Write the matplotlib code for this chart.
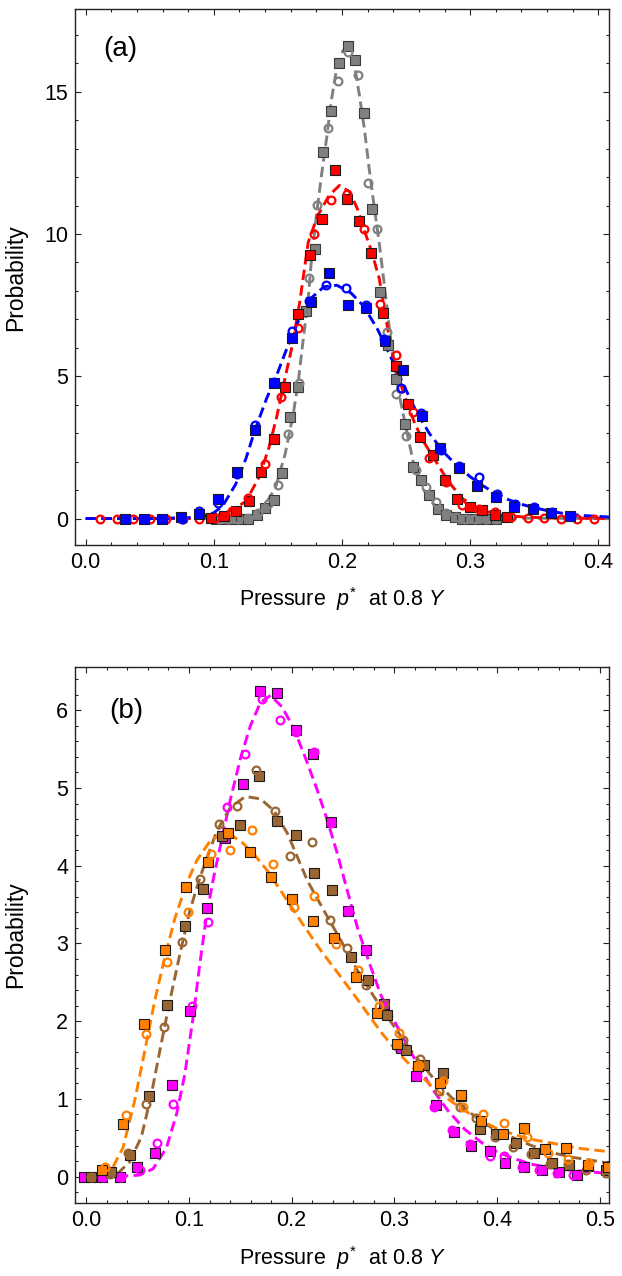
import matplotlib
matplotlib.use("Agg")
import matplotlib.pyplot as plt
from matplotlib.ticker import MultipleLocator, FormatStrFormatter

plt.rcParams['font.family'] = ['Liberation Sans', 'DejaVu Sans']
plt.rcParams['mathtext.fontset'] = 'custom'
plt.rcParams['mathtext.rm'] = 'Liberation Sans'
plt.rcParams['mathtext.it'] = 'Liberation Sans:italic'

# ---------------- panel (a) data ----------------
blue_sq_x = [0.031, 0.0455, 0.0599, 0.0744, 0.0888, 0.1033, 0.1177, 0.1322, 0.1466, 0.1611,
             0.1755, 0.19, 0.2044, 0.2189, 0.2333, 0.2478, 0.2622, 0.2767, 0.2911, 0.3056,
             0.32, 0.3345, 0.3489, 0.3634, 0.3778]
blue_sq_y = [0, 0, 0, 0.06, 0.15, 0.68, 1.62, 3.1, 4.76, 6.34,
             7.6, 8.64, 7.52, 7.4, 6.24, 5.21, 3.6, 2.47, 1.76, 1.14,
             0.76, 0.41, 0.32, 0.2, 0.08]
blue_ci_x = [0.0315, 0.046, 0.0605, 0.075, 0.0886, 0.103, 0.1178, 0.1324, 0.1466, 0.1607,
             0.1745, 0.1875, 0.2032, 0.2186, 0.2326, 0.2462, 0.2615, 0.2775, 0.2915, 0.3065,
             0.321, 0.335, 0.3495, 0.364, 0.3785]
blue_ci_y = [0, 0, 0, 0, 0.25, 0.55, 1.55, 3.3, 4.8, 6.6,
             7.65, 8.2, 8.1, 7.5, 6.3, 4.6, 3.7, 2.41, 1.85, 1.47,
             0.85, 0.5, 0.41, 0.24, 0.1]
blue_fit_x = [0.0, 0.05, 0.08, 0.09, 0.1, 0.107, 0.117, 0.125, 0.132, 0.141, 0.15, 0.158,
              0.166, 0.176, 0.186, 0.196, 0.207, 0.217, 0.228, 0.238, 0.248, 0.257, 0.268,
              0.28, 0.29, 0.3, 0.31, 0.32, 0.33, 0.34, 0.35, 0.36, 0.37, 0.38, 0.39, 0.41]
blue_fit_y = [0, 0, 0.03, 0.08, 0.2, 0.45, 1.2, 2.1, 3.1, 4.2, 5.15, 6.1,
              6.95, 7.75, 8.15, 8.2, 7.93, 7.46, 6.63, 5.68, 4.7, 3.85, 3.0,
              2.3, 1.85, 1.47, 1.15, 0.88, 0.66, 0.5, 0.38, 0.28, 0.2, 0.14, 0.1, 0.05]

red_sq_x = [0.098, 0.108, 0.1175, 0.1273, 0.137, 0.1466, 0.1556, 0.1653, 0.1754, 0.1846,
            0.1942, 0.2037, 0.2135, 0.223, 0.2323, 0.2418, 0.2513, 0.261, 0.2707, 0.2804,
            0.29, 0.2998, 0.3095, 0.319, 0.329]
red_sq_y = [0.02, 0.08, 0.25, 0.63, 1.64, 2.79, 4.62, 7.19, 9.26, 10.53,
            12.25, 11.24, 10.45, 9.35, 7.22, 5.35, 4.03, 2.88, 2.25, 1.35,
            0.7, 0.41, 0.29, 0.12, 0.05]
red_ci_x = [0.0115, 0.0243, 0.0371, 0.05, 0.0628, 0.0756, 0.0885, 0.1013, 0.1141, 0.127,
            0.1398, 0.1526, 0.1654, 0.1783, 0.1911, 0.2039, 0.2168, 0.2296, 0.2424, 0.2552,
            0.2681, 0.2809, 0.2937, 0.3065, 0.3194, 0.3322, 0.345, 0.3578, 0.3707, 0.3835,
            0.3963]
red_ci_y = [0, 0, 0, 0, 0, 0, 0, 0.01, 0.27, 0.72,
            1.9, 4.27, 6.69, 10.0, 11.18, 11.42, 10.18, 7.55, 5.74, 3.76,
            2.12, 1.29, 0.47, 0.32, 0.24, 0.04, 0.02, 0.01, 0, 0,
            0]
red_fit_x = [0.0, 0.08, 0.1, 0.112, 0.125, 0.135, 0.143, 0.149, 0.154, 0.161, 0.167,
             0.1736, 0.181, 0.19, 0.198, 0.206, 0.212, 0.217, 0.2225, 0.229, 0.238, 0.243,
             0.251, 0.257, 0.263, 0.272, 0.283, 0.294, 0.308, 0.322, 0.34, 0.36, 0.41]
red_fit_y = [0, 0, 0.07, 0.25, 0.6, 1.43, 2.49, 3.56, 4.62, 6.04, 7.6,
             9.7, 10.65, 11.36, 11.71, 11.48, 10.89, 10.18, 9.47, 8.45, 6.04, 5.1,
             4.03, 3.32, 2.75, 2.1, 1.3, 0.7, 0.3, 0.14, 0.06, 0.02, 0]

gray_sq_x = [0.102, 0.108, 0.114, 0.121, 0.127, 0.134, 0.1402, 0.1466, 0.153, 0.1594,
             0.1659, 0.1723, 0.1788, 0.1852, 0.1916, 0.198, 0.2045, 0.2104, 0.2168, 0.2233,
             0.2297, 0.2359, 0.2423, 0.2495, 0.2554, 0.262, 0.268, 0.275, 0.281, 0.288,
             0.294, 0.3, 0.307, 0.313, 0.32]
gray_sq_y = [0, 0, 0, 0, 0, 0.13, 0.37, 0.66, 1.6, 3.56,
             4.62, 7.28, 9.47, 12.9, 14.31, 16.03, 16.62, 16.11, 14.26, 10.88,
             7.95, 6.1, 4.92, 3.34, 1.82, 1.35, 0.82, 0.32, 0.12, 0.05,
             0, 0, 0, 0, 0]
gray_ci_x = [0.104, 0.111, 0.119, 0.127, 0.1348, 0.1426, 0.1504, 0.158, 0.1665, 0.1744,
             0.1808, 0.189, 0.1968, 0.2045, 0.2127, 0.2204, 0.2276, 0.2348, 0.2418, 0.2496,
             0.2574, 0.2652, 0.273, 0.281, 0.289, 0.296, 0.304, 0.312, 0.32]
gray_ci_y = [0, 0, 0, 0.02, 0.18, 0.5, 1.19, 2.97, 4.76, 8.46,
             11.03, 13.72, 15.38, 16.4, 15.58, 11.81, 10.18, 6.57, 4.39, 2.9,
             1.7, 1.1, 0.59, 0.2, 0.05, 0, 0, 0, 0]
gray_fit_x = [0.0, 0.1, 0.125, 0.135, 0.148, 0.1556, 0.162, 0.166, 0.1697, 0.1736, 0.176,
              0.18, 0.184, 0.188, 0.1916, 0.1955, 0.2006, 0.2058, 0.2096, 0.2135, 0.2174,
              0.2212, 0.225, 0.229, 0.2328, 0.238, 0.244, 0.2508, 0.256, 0.2625, 0.2694,
              0.278, 0.286, 0.3, 0.41]
gray_fit_y = [0, 0, 0.02, 0.13, 1.07, 2.26, 3.68, 4.86, 6.28, 7.7, 9.0,
              10.65, 12.07, 13.37, 14.67, 15.73, 16.44, 16.5, 15.97, 14.9, 13.72,
              12.3, 11.0, 9.7, 8.29, 6.3, 4.5, 3.0, 1.9, 1.1, 0.6,
              0.25, 0.1, 0.02, 0]

# ---------------- panel (b) data ----------------
orange_sq_x = [0.0155, 0.0357, 0.0559, 0.0764, 0.0972, 0.1181, 0.138, 0.1592, 0.1794, 0.2,
               0.2207, 0.2413, 0.2624, 0.2829, 0.3025, 0.3234, 0.3449, 0.3645, 0.3847, 0.406,
               0.4267, 0.4466, 0.467, 0.4889, 0.5085]
orange_sq_y = [0.09, 0.68, 1.97, 2.92, 3.72, 4.05, 4.42, 4.17, 3.86, 3.57,
               3.29, 3.07, 2.57, 2.1, 1.71, 1.42, 1.21, 1.05, 0.72, 0.55,
               0.62, 0.35, 0.37, 0.15, 0.13]
orange_ci_x = [0.0178, 0.0383, 0.0578, 0.079, 0.0992, 0.1214, 0.1403, 0.1615, 0.182, 0.2022,
               0.2217, 0.2429, 0.2647, 0.2853, 0.3048, 0.3244, 0.3471, 0.3667, 0.3863, 0.4068,
               0.4287, 0.4498, 0.4694, 0.4896]
orange_ci_y = [0.12, 0.79, 1.84, 2.76, 3.4, 4.15, 4.2, 4.46, 4.02, 3.47,
               3.61, 2.99, 2.66, 2.2, 1.85, 1.43, 1.23, 0.89, 0.8, 0.69,
               0.51, 0.3, 0.23, 0.17]
orange_fit_x = [0.0, 0.015, 0.0226, 0.0357, 0.047, 0.057, 0.0666, 0.0764, 0.0862, 0.0976,
                0.1077, 0.1207, 0.1321, 0.1403, 0.1517, 0.1631, 0.1761, 0.1892, 0.2087,
                0.2283, 0.2478, 0.2674, 0.2869, 0.3032, 0.3195, 0.3358, 0.3521, 0.3684,
                0.3847, 0.401, 0.4172, 0.4335, 0.4498, 0.4661, 0.4824, 0.51]
orange_fit_y = [0, 0, 0.04, 0.37, 0.97, 1.62, 2.26, 2.82, 3.32, 3.77,
                4.07, 4.32, 4.41, 4.4, 4.3, 4.15, 3.94, 3.68, 3.29,
                2.91, 2.57, 2.22, 1.86, 1.6, 1.38, 1.17, 1.0, 0.85,
                0.72, 0.61, 0.54, 0.48, 0.44, 0.4, 0.36, 0.32]

brown_sq_x = [0.0047, 0.024, 0.0422, 0.0611, 0.0787, 0.0966, 0.1139, 0.1322, 0.1501, 0.168,
              0.186, 0.2038, 0.2217, 0.2397, 0.2576, 0.2748, 0.2928, 0.3114, 0.3293, 0.3473,
              0.3651, 0.3831, 0.3993, 0.4182, 0.4362, 0.4531, 0.47, 0.4883, 0.5059]
brown_sq_y = [0, 0.06, 0.28, 1.04, 2.21, 3.22, 3.7, 4.38, 4.53, 5.16,
              4.58, 4.39, 3.91, 3.69, 2.82, 2.53, 2.08, 1.63, 1.43, 1.33,
              1.04, 0.61, 0.55, 0.43, 0.31, 0.18, 0.15, 0.14, 0.08]
brown_ci_x = [0.0047, 0.0227, 0.0406, 0.0578, 0.0754, 0.0934, 0.1107, 0.1289, 0.1468, 0.1657,
              0.1833, 0.1986, 0.2194, 0.2374, 0.2543, 0.2723, 0.2902, 0.3081, 0.3254, 0.343,
              0.3636, 0.3799, 0.3977, 0.4156, 0.4335, 0.4515, 0.4687, 0.4864, 0.5059]
brown_ci_y = [0, 0.03, 0.31, 0.94, 1.93, 3.02, 3.83, 4.54, 4.77, 5.23,
              4.7, 4.13, 4.3, 3.3, 2.94, 2.47, 2.22, 1.76, 1.51, 1.1,
              0.89, 0.76, 0.51, 0.38, 0.29, 0.16, 0.16, 0.08, 0.05]
brown_fit_x = [0.0, 0.02, 0.029, 0.0422, 0.0536, 0.0634, 0.0716, 0.0813, 0.0911, 0.1008,
               0.1107, 0.1272, 0.1403, 0.1549, 0.1696, 0.1826, 0.1957, 0.2152, 0.2315,
               0.2478, 0.2641, 0.2804, 0.2967, 0.3162, 0.3358, 0.3554, 0.375, 0.3945,
               0.4141, 0.4335, 0.4532, 0.4727, 0.4922, 0.51]
brown_fit_y = [0, 0, 0.02, 0.19, 0.51, 1.06, 1.62, 2.26, 2.86, 3.42,
               3.85, 4.45, 4.75, 4.89, 4.86, 4.71, 4.42, 3.81, 3.42,
               3.04, 2.65, 2.31, 1.99, 1.62, 1.3, 1.02, 0.81, 0.63,
               0.51, 0.4, 0.31, 0.25, 0.21, 0.17]

magenta_sq_x = [-0.0018, 0.015, 0.0324, 0.0497, 0.0666, 0.0839, 0.1008, 0.118, 0.1354, 0.1526,
                0.1696, 0.186, 0.2038, 0.2208, 0.238, 0.255, 0.2722, 0.2895, 0.3064, 0.3211,
                0.3407, 0.358, 0.3749, 0.3928, 0.4081, 0.4264, 0.4433, 0.4606, 0.4776]
magenta_sq_y = [0, 0, 0, 0.13, 0.3, 1.18, 2.13, 3.45, 4.35, 5.05,
                6.25, 6.22, 5.75, 5.44, 4.56, 3.42, 2.92, 2.22, 1.66, 1.3,
                0.92, 0.57, 0.4, 0.33, 0.18, 0.13, 0.08, 0.06, 0.02]
magenta_ci_x = [0.016, 0.034, 0.052, 0.0689, 0.0845, 0.1025, 0.1188, 0.137, 0.1549, 0.1712,
                0.1882, 0.2045, 0.2217, 0.238, 0.255, 0.2722, 0.2895, 0.3064, 0.3218, 0.3384,
                0.3564, 0.3737, 0.3928, 0.4066, 0.4239, 0.441, 0.458, 0.474]
magenta_ci_y = [0, 0, 0.08, 0.43, 0.93, 2.2, 3.27, 4.75, 5.44, 6.15,
                5.88, 5.72, 5.46, 4.55, 3.42, 2.92, 2.22, 1.66, 1.29, 0.9,
                0.6, 0.42, 0.27, 0.26, 0.13, 0.08, 0.05, 0.02]
magenta_fit_x = [0.0, 0.0259, 0.052, 0.065, 0.078, 0.0878, 0.096, 0.104, 0.1107, 0.117,
                 0.124, 0.1321, 0.1403, 0.1501, 0.1598, 0.1696, 0.1794, 0.1908, 0.2022,
                 0.2136, 0.225, 0.2348, 0.2446, 0.2527, 0.2641, 0.2772, 0.287, 0.3032,
                 0.3195, 0.3358, 0.3521, 0.3684, 0.3847, 0.401, 0.4172, 0.4335, 0.4498,
                 0.4661, 0.4824, 0.51]
magenta_fit_y = [0, 0, 0.02, 0.1, 0.37, 0.8, 1.32, 2.05, 2.75, 3.35,
                 3.85, 4.35, 4.85, 5.38, 5.8, 6.1, 6.19, 6.04, 5.76,
                 5.38, 4.97, 4.58, 4.15, 3.75, 3.2, 2.69, 2.33, 1.92,
                 1.52, 1.15, 0.85, 0.61, 0.44, 0.31, 0.23, 0.16, 0.12,
                 0.09, 0.07, 0.04]

BLUE = '#0000ff'
RED = '#ff0000'
GRAY = '#808080'
ORANGE = '#ff8000'
BROWN = '#996633'
MAGENTA = '#ff00ff'


def draw_set(ax, sq_x, sq_y, ci_x, ci_y, color, edge='#1a1a1a'):
    ax.plot(sq_x, sq_y, ls='none', marker='s', ms=7.8, mfc=color, mec=edge,
            mew=0.8, zorder=3)
    ax.plot(ci_x, ci_y, ls='none', marker='o', ms=5.6, mfc='none', mec=color,
            mew=1.6, zorder=3)


def draw_fit(ax, x, y, color):
    ax.plot(x, y, color=color, lw=2.1, dashes=(3.6, 1.8), zorder=2)


def style(ax, xmaj, xmin, ymaj, ymin):
    ax.xaxis.set_major_locator(MultipleLocator(xmaj))
    ax.xaxis.set_minor_locator(MultipleLocator(xmin))
    ax.yaxis.set_major_locator(MultipleLocator(ymaj))
    ax.yaxis.set_minor_locator(MultipleLocator(ymin))
    ax.xaxis.set_major_formatter(FormatStrFormatter('%.1f'))
    ax.tick_params(which='both', direction='in', top=True, right=True,
                   labelsize=15.5, width=0.8, color='#222222', pad=5)
    ax.tick_params(which='major', length=4.6)
    ax.tick_params(which='minor', length=2.5)
    for s in ax.spines.values():
        s.set_linewidth(1.0)
        s.set_color('#222222')
    ax.set_xlabel(r'Pressure  $p^{*}$  at 0.8 $Y$', fontsize=15.5, labelpad=9)
    ax.set_ylabel('Probability', fontsize=16.5)
    ax.yaxis.set_label_coords(-0.089, 0.5)


fig = plt.figure(figsize=(6.22, 12.76), dpi=100)
W, H = 622.0, 1276.0
ax1 = fig.add_axes([75 / W, 1 - 545 / H, 534 / W, 535.7 / H])
ax2 = fig.add_axes([75 / W, 1 - 1203.3 / H, 534 / W, 536.6 / H])

draw_fit(ax1, gray_fit_x, gray_fit_y, GRAY)
draw_fit(ax1, red_fit_x, red_fit_y, RED)
draw_fit(ax1, blue_fit_x, blue_fit_y, BLUE)
draw_set(ax1, gray_sq_x, gray_sq_y, gray_ci_x, gray_ci_y, GRAY, edge='#3a3a3a')
draw_set(ax1, red_sq_x, red_sq_y, red_ci_x, red_ci_y, RED)
draw_set(ax1, blue_sq_x, blue_sq_y, blue_ci_x, blue_ci_y, BLUE)
ax1.set_xlim(-0.0083, 0.4083)
ax1.set_ylim(-0.93, 17.9)
style(ax1, 0.1, 0.02, 5, 1)
ax1.text(0.085, 0.925, '(a)', transform=ax1.transAxes, fontsize=20,
         ha='center', va='center')

draw_fit(ax2, magenta_fit_x, magenta_fit_y, MAGENTA)
draw_fit(ax2, brown_fit_x, brown_fit_y, BROWN)
draw_fit(ax2, orange_fit_x, orange_fit_y, ORANGE)
draw_set(ax2, magenta_sq_x, magenta_sq_y, magenta_ci_x, magenta_ci_y, MAGENTA)
draw_set(ax2, brown_sq_x, brown_sq_y, brown_ci_x, brown_ci_y, BROWN)
draw_set(ax2, orange_sq_x, orange_sq_y, orange_ci_x, orange_ci_y, ORANGE)
ax2.set_xlim(-0.011, 0.509)
ax2.set_ylim(-0.343, 6.56)
style(ax2, 0.1, 0.02, 1, 0.2)
ax2.text(0.096, 0.918, '(b)', transform=ax2.transAxes, fontsize=20,
         ha='center', va='center')

fig.savefig('out.png', dpi=100)
